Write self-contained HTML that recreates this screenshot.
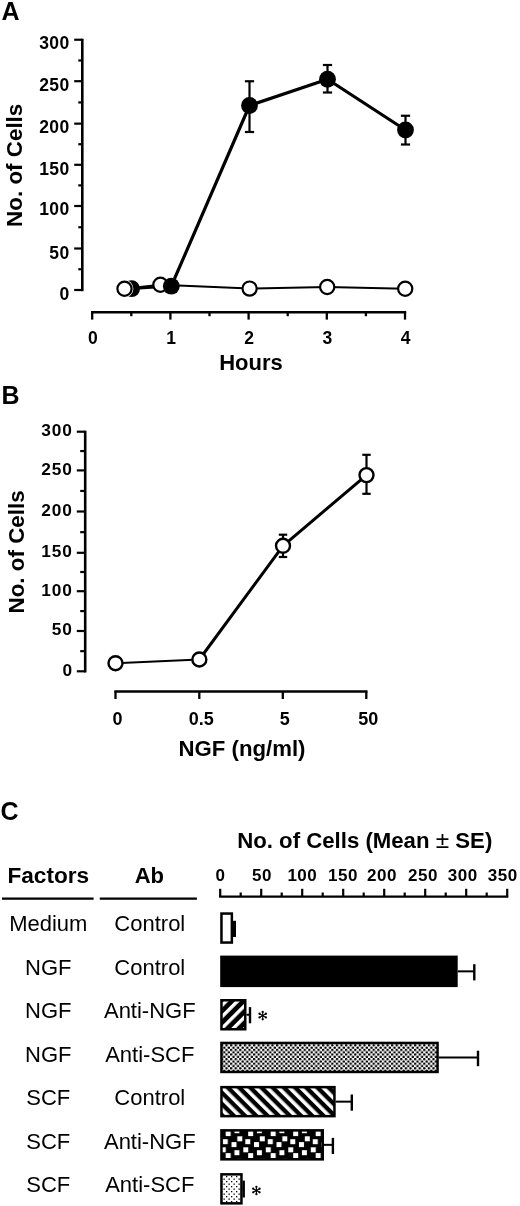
<!DOCTYPE html>
<html><head><meta charset="utf-8"><style>
html,body{margin:0;padding:0;background:#fff;}
body{width:520px;height:1206px;overflow:hidden;}
svg{display:block;filter:grayscale(100%);}
</style></head><body>
<svg width="520" height="1206" viewBox="0 0 520 1206">
<defs>
<pattern id="hatchA" patternUnits="userSpaceOnUse" x="4.3" width="8.13" height="8.13" patternTransform="rotate(45)">
<rect width="8.13" height="8.13" fill="#000"/><rect x="0" y="0" width="3.4" height="8.13" fill="#fff"/></pattern>
<pattern id="hatchB" patternUnits="userSpaceOnUse" x="4.14" width="7.92" height="7.92" patternTransform="rotate(-45)">
<rect width="7.92" height="7.92" fill="#000"/><rect x="0" y="0" width="3.6" height="7.92" fill="#fff"/></pattern>
<pattern id="checker" patternUnits="userSpaceOnUse" width="4.6" height="4.6">
<rect width="4.6" height="4.6" fill="#fff"/><circle cx="1.15" cy="1.15" r="1.25" fill="#000"/><circle cx="3.45" cy="3.45" r="1.25" fill="#000"/></pattern>
<pattern id="dots" patternUnits="userSpaceOnUse" width="5" height="5">
<rect width="5" height="5" fill="#fff"/><rect x="1" y="1" width="1.3" height="1.3" fill="#000"/><rect x="3.5" y="3.5" width="1.3" height="1.3" fill="#000"/></pattern>
<pattern id="blocks" patternUnits="userSpaceOnUse" x="219.8" y="1129" width="22.5" height="22">
<rect width="22.5" height="22" fill="#000"/>
<rect x="5.9" y="2.1" width="5" height="5" fill="#fff"/>
<rect x="17.5" y="7.3" width="5" height="5" fill="#fff"/>
<rect x="3" y="10.2" width="5" height="5" fill="#fff"/>
<rect x="11.7" y="13.1" width="5" height="5" fill="#fff"/>
<rect x="1" y="18.3" width="5" height="5" fill="#fff"/>
<rect x="1" y="-3.7" width="5" height="5" fill="#fff"/>
<rect x="14.6" y="-0.8" width="5" height="5" fill="#fff"/>
<rect x="14.6" y="21.2" width="5" height="5" fill="#fff"/>
</pattern>
</defs>
<rect width="520" height="1206" fill="#fff"/>
<text x="1.5" y="20" font-family="Liberation Sans" font-weight="bold" font-size="25">A</text>
<line x1="82.3" y1="38.75" x2="82.3" y2="291.2" stroke="#000" stroke-width="2.6"/>
<line x1="74.2" y1="290.00" x2="82.3" y2="290.00" stroke="#000" stroke-width="2.2"/>
<text x="69.6" y="299.90" font-family="Liberation Sans" font-weight="bold" font-size="17.5" text-anchor="end" letter-spacing="0.4">0</text>
<line x1="78.3" y1="269.25" x2="82.3" y2="269.25" stroke="#000" stroke-width="2.2"/>
<line x1="74.2" y1="248.50" x2="82.3" y2="248.50" stroke="#000" stroke-width="2.2"/>
<text x="69.6" y="258.90" font-family="Liberation Sans" font-weight="bold" font-size="17.5" text-anchor="end" letter-spacing="0.4">50</text>
<line x1="78.3" y1="227.25" x2="82.3" y2="227.25" stroke="#000" stroke-width="2.2"/>
<line x1="74.2" y1="206.00" x2="82.3" y2="206.00" stroke="#000" stroke-width="2.2"/>
<text x="69.6" y="215.40" font-family="Liberation Sans" font-weight="bold" font-size="17.5" text-anchor="end" letter-spacing="0.4">100</text>
<line x1="78.3" y1="185.40" x2="82.3" y2="185.40" stroke="#000" stroke-width="2.2"/>
<line x1="74.2" y1="164.80" x2="82.3" y2="164.80" stroke="#000" stroke-width="2.2"/>
<text x="69.6" y="174.70" font-family="Liberation Sans" font-weight="bold" font-size="17.5" text-anchor="end" letter-spacing="0.4">150</text>
<line x1="78.3" y1="144.23" x2="82.3" y2="144.23" stroke="#000" stroke-width="2.2"/>
<line x1="74.2" y1="123.65" x2="82.3" y2="123.65" stroke="#000" stroke-width="2.2"/>
<text x="69.6" y="133.00" font-family="Liberation Sans" font-weight="bold" font-size="17.5" text-anchor="end" letter-spacing="0.4">200</text>
<line x1="78.3" y1="102.43" x2="82.3" y2="102.43" stroke="#000" stroke-width="2.2"/>
<line x1="74.2" y1="81.20" x2="82.3" y2="81.20" stroke="#000" stroke-width="2.2"/>
<text x="69.6" y="90.90" font-family="Liberation Sans" font-weight="bold" font-size="17.5" text-anchor="end" letter-spacing="0.4">250</text>
<line x1="78.3" y1="60.48" x2="82.3" y2="60.48" stroke="#000" stroke-width="2.2"/>
<line x1="74.2" y1="39.75" x2="82.3" y2="39.75" stroke="#000" stroke-width="2.2"/>
<text x="69.6" y="48.70" font-family="Liberation Sans" font-weight="bold" font-size="17.5" text-anchor="end" letter-spacing="0.4">300</text>
<line x1="91.0" y1="312.2" x2="406.2" y2="312.2" stroke="#000" stroke-width="2.4"/>
<line x1="92.20" y1="312.2" x2="92.20" y2="319.6" stroke="#000" stroke-width="2.3"/>
<text x="92.80" y="343.8" font-family="Liberation Sans" font-weight="bold" font-size="17.5" text-anchor="middle">0</text>
<line x1="131.30" y1="312.2" x2="131.30" y2="316.2" stroke="#000" stroke-width="2.3"/>
<line x1="170.40" y1="312.2" x2="170.40" y2="319.6" stroke="#000" stroke-width="2.3"/>
<text x="171.00" y="343.8" font-family="Liberation Sans" font-weight="bold" font-size="17.5" text-anchor="middle">1</text>
<line x1="209.50" y1="312.2" x2="209.50" y2="316.2" stroke="#000" stroke-width="2.3"/>
<line x1="248.60" y1="312.2" x2="248.60" y2="319.6" stroke="#000" stroke-width="2.3"/>
<text x="249.20" y="343.8" font-family="Liberation Sans" font-weight="bold" font-size="17.5" text-anchor="middle">2</text>
<line x1="287.70" y1="312.2" x2="287.70" y2="316.2" stroke="#000" stroke-width="2.3"/>
<line x1="326.80" y1="312.2" x2="326.80" y2="319.6" stroke="#000" stroke-width="2.3"/>
<text x="327.40" y="343.8" font-family="Liberation Sans" font-weight="bold" font-size="17.5" text-anchor="middle">3</text>
<line x1="365.90" y1="312.2" x2="365.90" y2="316.2" stroke="#000" stroke-width="2.3"/>
<line x1="405.00" y1="312.2" x2="405.00" y2="319.6" stroke="#000" stroke-width="2.3"/>
<text x="405.60" y="343.8" font-family="Liberation Sans" font-weight="bold" font-size="17.5" text-anchor="middle">4</text>
<text x="251" y="370" font-family="Liberation Sans" font-weight="bold" font-size="22" text-anchor="middle">Hours</text>
<text transform="translate(22.4 165.3) rotate(-90)" font-family="Liberation Sans" font-weight="bold" font-size="22.4" text-anchor="middle">No. of Cells</text>
<polyline points="124.5,288.75 160.4,284.75 249.6,288.6 327.2,287 405.2,288.8" fill="none" stroke="#000" stroke-width="2.0"/>
<line x1="131.6" y1="288.7" x2="171.3" y2="286.2" stroke="#000" stroke-width="2.4"/>
<polyline points="171.3,286.2 249.5,105.5 327.5,79.25 405.5,130" fill="none" stroke="#000" stroke-width="3.2" stroke-linejoin="round"/>
<line x1="249.5" y1="81.25" x2="249.5" y2="132" stroke="#000" stroke-width="2.2"/>
<line x1="244.9" y1="81.25" x2="254.1" y2="81.25" stroke="#000" stroke-width="2.2"/>
<line x1="244.9" y1="132" x2="254.1" y2="132" stroke="#000" stroke-width="2.2"/>
<line x1="327.5" y1="65" x2="327.5" y2="92.5" stroke="#000" stroke-width="2.2"/>
<line x1="322.9" y1="65" x2="332.1" y2="65" stroke="#000" stroke-width="2.2"/>
<line x1="322.9" y1="92.5" x2="332.1" y2="92.5" stroke="#000" stroke-width="2.2"/>
<line x1="405.5" y1="115.75" x2="405.5" y2="144.5" stroke="#000" stroke-width="2.2"/>
<line x1="400.9" y1="115.75" x2="410.1" y2="115.75" stroke="#000" stroke-width="2.2"/>
<line x1="400.9" y1="144.5" x2="410.1" y2="144.5" stroke="#000" stroke-width="2.2"/>
<circle cx="131.6" cy="288.7" r="8.4" fill="#000"/>
<circle cx="124.5" cy="288.75" r="8.9" fill="#fff"/>
<circle cx="124.5" cy="288.75" r="7.1" fill="#fff" stroke="#000" stroke-width="2.2"/>
<circle cx="160.4" cy="284.75" r="7.1" fill="#fff" stroke="#000" stroke-width="2.2"/>
<circle cx="171.3" cy="286.2" r="8.4" fill="#000"/>
<circle cx="249.6" cy="288.6" r="7.1" fill="#fff" stroke="#000" stroke-width="2.2"/>
<circle cx="327.2" cy="287" r="7.1" fill="#fff" stroke="#000" stroke-width="2.2"/>
<circle cx="405.2" cy="288.8" r="7.1" fill="#fff" stroke="#000" stroke-width="2.2"/>
<circle cx="249.5" cy="105.5" r="8.4" fill="#000"/>
<circle cx="327.5" cy="79.25" r="8.4" fill="#000"/>
<circle cx="405.5" cy="130" r="8.4" fill="#000"/>
<text x="1.5" y="404" font-family="Liberation Sans" font-weight="bold" font-size="25">B</text>
<line x1="85.2" y1="430.7" x2="85.2" y2="672.5" stroke="#000" stroke-width="2.6"/>
<line x1="76.8" y1="671.30" x2="85.2" y2="671.30" stroke="#000" stroke-width="2.2"/>
<text x="72.9" y="676.00" font-family="Liberation Sans" font-weight="bold" font-size="17.3" text-anchor="end" letter-spacing="0.9">0</text>
<line x1="80.2" y1="651.15" x2="85.2" y2="651.15" stroke="#000" stroke-width="2.2"/>
<line x1="76.8" y1="631.00" x2="85.2" y2="631.00" stroke="#000" stroke-width="2.2"/>
<text x="72.9" y="635.30" font-family="Liberation Sans" font-weight="bold" font-size="17.3" text-anchor="end" letter-spacing="0.9">50</text>
<line x1="80.2" y1="611.10" x2="85.2" y2="611.10" stroke="#000" stroke-width="2.2"/>
<line x1="76.8" y1="591.20" x2="85.2" y2="591.20" stroke="#000" stroke-width="2.2"/>
<text x="72.9" y="595.70" font-family="Liberation Sans" font-weight="bold" font-size="17.3" text-anchor="end" letter-spacing="0.9">100</text>
<line x1="80.2" y1="572.00" x2="85.2" y2="572.00" stroke="#000" stroke-width="2.2"/>
<line x1="76.8" y1="552.80" x2="85.2" y2="552.80" stroke="#000" stroke-width="2.2"/>
<text x="72.9" y="557.40" font-family="Liberation Sans" font-weight="bold" font-size="17.3" text-anchor="end" letter-spacing="0.9">150</text>
<line x1="80.2" y1="532.15" x2="85.2" y2="532.15" stroke="#000" stroke-width="2.2"/>
<line x1="76.8" y1="511.50" x2="85.2" y2="511.50" stroke="#000" stroke-width="2.2"/>
<text x="72.9" y="516.00" font-family="Liberation Sans" font-weight="bold" font-size="17.3" text-anchor="end" letter-spacing="0.9">200</text>
<line x1="80.2" y1="490.95" x2="85.2" y2="490.95" stroke="#000" stroke-width="2.2"/>
<line x1="76.8" y1="470.40" x2="85.2" y2="470.40" stroke="#000" stroke-width="2.2"/>
<text x="72.9" y="474.70" font-family="Liberation Sans" font-weight="bold" font-size="17.3" text-anchor="end" letter-spacing="0.9">250</text>
<line x1="80.2" y1="451.05" x2="85.2" y2="451.05" stroke="#000" stroke-width="2.2"/>
<line x1="76.8" y1="431.70" x2="85.2" y2="431.70" stroke="#000" stroke-width="2.2"/>
<text x="72.9" y="436.10" font-family="Liberation Sans" font-weight="bold" font-size="17.3" text-anchor="end" letter-spacing="0.9">300</text>
<line x1="114.3" y1="691.5" x2="367.5" y2="691.5" stroke="#000" stroke-width="2.4"/>
<line x1="115.5" y1="691.5" x2="115.5" y2="699" stroke="#000" stroke-width="2.3"/>
<text x="117.5" y="724.6" font-family="Liberation Sans" font-weight="bold" font-size="18" text-anchor="middle">0</text>
<line x1="199.3" y1="691.5" x2="199.3" y2="699" stroke="#000" stroke-width="2.3"/>
<text x="201.3" y="724.6" font-family="Liberation Sans" font-weight="bold" font-size="18" text-anchor="middle">0.5</text>
<line x1="282.8" y1="691.5" x2="282.8" y2="699" stroke="#000" stroke-width="2.3"/>
<text x="284.8" y="724.6" font-family="Liberation Sans" font-weight="bold" font-size="18" text-anchor="middle">5</text>
<line x1="366.3" y1="691.5" x2="366.3" y2="699" stroke="#000" stroke-width="2.3"/>
<text x="368.3" y="724.6" font-family="Liberation Sans" font-weight="bold" font-size="18" text-anchor="middle">50</text>
<text x="178.5" y="756.3" font-family="Liberation Sans" font-weight="bold" font-size="22.2">NGF (ng/ml)</text>
<text transform="translate(24.3 551.9) rotate(-90)" font-family="Liberation Sans" font-weight="bold" font-size="22.4" text-anchor="middle">No. of Cells</text>
<line x1="115.5" y1="663.2" x2="199.35" y2="659.5" stroke="#000" stroke-width="2.0"/>
<polyline points="199.35,659.5 283.0,545.8 366.5,475.1" fill="none" stroke="#000" stroke-width="3" stroke-linejoin="round"/>
<line x1="283.0" y1="534.7" x2="283.0" y2="557" stroke="#000" stroke-width="2.2"/>
<line x1="278.8" y1="534.7" x2="287.2" y2="534.7" stroke="#000" stroke-width="2.2"/>
<line x1="278.8" y1="557" x2="287.2" y2="557" stroke="#000" stroke-width="2.2"/>
<line x1="366.5" y1="454.8" x2="366.5" y2="493.8" stroke="#000" stroke-width="2.2"/>
<line x1="362.3" y1="454.8" x2="370.7" y2="454.8" stroke="#000" stroke-width="2.2"/>
<line x1="362.3" y1="493.8" x2="370.7" y2="493.8" stroke="#000" stroke-width="2.2"/>
<circle cx="115.5" cy="663.2" r="7.0" fill="#fff" stroke="#000" stroke-width="2.4"/>
<circle cx="199.35" cy="659.5" r="7.0" fill="#fff" stroke="#000" stroke-width="2.4"/>
<circle cx="283.0" cy="545.8" r="7.0" fill="#fff" stroke="#000" stroke-width="2.4"/>
<circle cx="366.5" cy="475.1" r="7.0" fill="#fff" stroke="#000" stroke-width="2.4"/>
<text x="0.5" y="820" font-family="Liberation Sans" font-weight="bold" font-size="25">C</text>
<text x="237.2" y="848.2" font-family="Liberation Sans" font-weight="bold" font-size="22.2">No. of Cells (Mean <tspan font-weight="normal" font-size="24.5">±</tspan> SE)</text>
<text x="48.3" y="882.6" font-family="Liberation Sans" font-weight="bold" font-size="22.6" text-anchor="middle">Factors</text>
<text x="149.3" y="882.6" font-family="Liberation Sans" font-weight="bold" font-size="22" text-anchor="middle">Ab</text>
<line x1="2" y1="898.6" x2="93.6" y2="898.6" stroke="#000" stroke-width="2.4"/>
<line x1="99.8" y1="898.6" x2="196.9" y2="898.6" stroke="#000" stroke-width="2.4"/>
<line x1="219.1" y1="896.6" x2="508.3" y2="896.6" stroke="#000" stroke-width="2.3"/>
<line x1="220.20" y1="888.8" x2="220.20" y2="896.6" stroke="#000" stroke-width="2.2"/>
<text x="220.55" y="881.2" font-family="Liberation Sans" font-weight="bold" font-size="17" text-anchor="middle" letter-spacing="0.5">0</text>
<line x1="240.70" y1="892.5" x2="240.70" y2="896.6" stroke="#000" stroke-width="2.2"/>
<line x1="261.20" y1="888.8" x2="261.20" y2="896.6" stroke="#000" stroke-width="2.2"/>
<text x="261.95" y="881.2" font-family="Liberation Sans" font-weight="bold" font-size="17" text-anchor="middle" letter-spacing="0.5">50</text>
<line x1="281.70" y1="892.5" x2="281.70" y2="896.6" stroke="#000" stroke-width="2.2"/>
<line x1="302.20" y1="888.8" x2="302.20" y2="896.6" stroke="#000" stroke-width="2.2"/>
<text x="302.35" y="881.2" font-family="Liberation Sans" font-weight="bold" font-size="17" text-anchor="middle" letter-spacing="0.5">100</text>
<line x1="322.70" y1="892.5" x2="322.70" y2="896.6" stroke="#000" stroke-width="2.2"/>
<line x1="343.20" y1="888.8" x2="343.20" y2="896.6" stroke="#000" stroke-width="2.2"/>
<text x="342.95" y="881.2" font-family="Liberation Sans" font-weight="bold" font-size="17" text-anchor="middle" letter-spacing="0.5">150</text>
<line x1="363.70" y1="892.5" x2="363.70" y2="896.6" stroke="#000" stroke-width="2.2"/>
<line x1="384.20" y1="888.8" x2="384.20" y2="896.6" stroke="#000" stroke-width="2.2"/>
<text x="381.95" y="881.2" font-family="Liberation Sans" font-weight="bold" font-size="17" text-anchor="middle" letter-spacing="0.5">200</text>
<line x1="404.70" y1="892.5" x2="404.70" y2="896.6" stroke="#000" stroke-width="2.2"/>
<line x1="425.20" y1="888.8" x2="425.20" y2="896.6" stroke="#000" stroke-width="2.2"/>
<text x="422.95" y="881.2" font-family="Liberation Sans" font-weight="bold" font-size="17" text-anchor="middle" letter-spacing="0.5">250</text>
<line x1="445.70" y1="892.5" x2="445.70" y2="896.6" stroke="#000" stroke-width="2.2"/>
<line x1="466.20" y1="888.8" x2="466.20" y2="896.6" stroke="#000" stroke-width="2.2"/>
<text x="462.75" y="881.2" font-family="Liberation Sans" font-weight="bold" font-size="17" text-anchor="middle" letter-spacing="0.5">300</text>
<line x1="486.70" y1="892.5" x2="486.70" y2="896.6" stroke="#000" stroke-width="2.2"/>
<line x1="507.20" y1="888.8" x2="507.20" y2="896.6" stroke="#000" stroke-width="2.2"/>
<text x="502.75" y="881.2" font-family="Liberation Sans" font-weight="bold" font-size="17" text-anchor="middle" letter-spacing="0.5">350</text>
<text x="48.3" y="931.30" font-family="Liberation Sans" font-size="22" text-anchor="middle">Medium</text>
<text x="149.8" y="931.30" font-family="Liberation Sans" font-size="22" text-anchor="middle">Control</text>
<text x="48.3" y="974.75" font-family="Liberation Sans" font-size="22" text-anchor="middle">NGF</text>
<text x="149.8" y="974.75" font-family="Liberation Sans" font-size="22" text-anchor="middle">Control</text>
<text x="48.3" y="1018.20" font-family="Liberation Sans" font-size="22" text-anchor="middle">NGF</text>
<text x="149.8" y="1018.20" font-family="Liberation Sans" font-size="22" text-anchor="middle">Anti-NGF</text>
<text x="48.3" y="1061.65" font-family="Liberation Sans" font-size="22" text-anchor="middle">NGF</text>
<text x="149.8" y="1061.65" font-family="Liberation Sans" font-size="22" text-anchor="middle">Anti-SCF</text>
<text x="48.3" y="1105.10" font-family="Liberation Sans" font-size="22" text-anchor="middle">SCF</text>
<text x="149.8" y="1105.10" font-family="Liberation Sans" font-size="22" text-anchor="middle">Control</text>
<text x="48.3" y="1148.55" font-family="Liberation Sans" font-size="22" text-anchor="middle">SCF</text>
<text x="149.8" y="1148.55" font-family="Liberation Sans" font-size="22" text-anchor="middle">Anti-NGF</text>
<text x="48.3" y="1192.00" font-family="Liberation Sans" font-size="22" text-anchor="middle">SCF</text>
<text x="149.8" y="1192.00" font-family="Liberation Sans" font-size="22" text-anchor="middle">Anti-SCF</text>
<line x1="233.1" y1="928.05" x2="234.3" y2="928.05" stroke="#000" stroke-width="2"/>
<line x1="234.3" y1="920.8" x2="234.3" y2="937" stroke="#000" stroke-width="3.4"/>
<rect x="221.45" y="913.55" width="10.40" height="29.00" fill="#fff" stroke="#000" stroke-width="2.5"/>
<line x1="457.7" y1="971.35" x2="474.3" y2="971.35" stroke="#000" stroke-width="2"/>
<line x1="474.3" y1="964.2" x2="474.3" y2="980.4" stroke="#000" stroke-width="2.4"/>
<rect x="221.45" y="956.85" width="235.00" height="29.00" fill="#000" stroke="#000" stroke-width="2.5"/>
<line x1="246.5" y1="1014.75" x2="250.0" y2="1014.75" stroke="#000" stroke-width="2"/>
<line x1="250.0" y1="1007.1" x2="250.0" y2="1023.3" stroke="#000" stroke-width="2.4"/>
<rect x="221.45" y="1000.25" width="23.80" height="29.00" fill="url(#hatchA)" stroke="#000" stroke-width="2.5"/>
<line x1="438.8" y1="1057.45" x2="478.0" y2="1057.45" stroke="#000" stroke-width="2"/>
<line x1="478.0" y1="1050.7" x2="478.0" y2="1066.2" stroke="#000" stroke-width="2.4"/>
<rect x="221.45" y="1042.95" width="216.10" height="29.00" fill="url(#checker)" stroke="#000" stroke-width="2.5"/>
<line x1="335.7" y1="1101.65" x2="351.8" y2="1101.65" stroke="#000" stroke-width="2"/>
<line x1="351.8" y1="1094.5" x2="351.8" y2="1110.7" stroke="#000" stroke-width="2.4"/>
<rect x="221.45" y="1087.15" width="113.00" height="29.00" fill="url(#hatchB)" stroke="#000" stroke-width="2.5"/>
<line x1="324.0" y1="1144.85" x2="332.9" y2="1144.85" stroke="#000" stroke-width="2"/>
<line x1="332.9" y1="1137.9" x2="332.9" y2="1154" stroke="#000" stroke-width="2.4"/>
<rect x="221.45" y="1130.35" width="101.30" height="29.00" fill="url(#blocks)" stroke="#000" stroke-width="2.5"/>
<line x1="242.7" y1="1188.85" x2="243.7" y2="1188.85" stroke="#000" stroke-width="2"/>
<line x1="243.7" y1="1180.6" x2="243.7" y2="1197.5" stroke="#000" stroke-width="2.4"/>
<rect x="221.45" y="1174.35" width="20.00" height="29.00" fill="url(#dots)" stroke="#000" stroke-width="2.5"/>
<line x1="262.70" y1="1011.90" x2="262.70" y2="1019.30" stroke="#000" stroke-width="1.1"/>
<line x1="259.50" y1="1013.75" x2="265.90" y2="1017.45" stroke="#000" stroke-width="1.1"/>
<line x1="259.50" y1="1017.45" x2="265.90" y2="1013.75" stroke="#000" stroke-width="1.1"/>
<circle cx="265.90" cy="1017.45" r="1.15" fill="#000"/>
<circle cx="262.70" cy="1019.30" r="1.15" fill="#000"/>
<circle cx="259.50" cy="1017.45" r="1.15" fill="#000"/>
<circle cx="259.50" cy="1013.75" r="1.15" fill="#000"/>
<circle cx="262.70" cy="1011.90" r="1.15" fill="#000"/>
<circle cx="265.90" cy="1013.75" r="1.15" fill="#000"/>
<circle cx="262.7" cy="1015.6" r="1.2" fill="#000"/>
<line x1="256.40" y1="1186.80" x2="256.40" y2="1194.20" stroke="#000" stroke-width="1.1"/>
<line x1="253.20" y1="1188.65" x2="259.60" y2="1192.35" stroke="#000" stroke-width="1.1"/>
<line x1="253.20" y1="1192.35" x2="259.60" y2="1188.65" stroke="#000" stroke-width="1.1"/>
<circle cx="259.60" cy="1192.35" r="1.15" fill="#000"/>
<circle cx="256.40" cy="1194.20" r="1.15" fill="#000"/>
<circle cx="253.20" cy="1192.35" r="1.15" fill="#000"/>
<circle cx="253.20" cy="1188.65" r="1.15" fill="#000"/>
<circle cx="256.40" cy="1186.80" r="1.15" fill="#000"/>
<circle cx="259.60" cy="1188.65" r="1.15" fill="#000"/>
<circle cx="256.4" cy="1190.5" r="1.2" fill="#000"/>
</svg>
</body></html>
